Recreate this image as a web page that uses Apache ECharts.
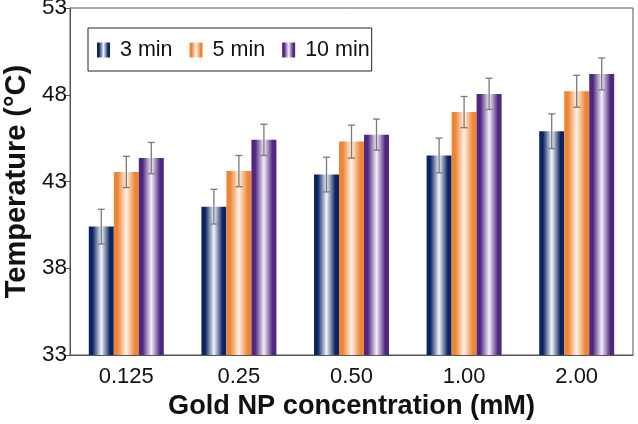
<!DOCTYPE html>
<html><head><meta charset="utf-8">
<script src="https://cdn.jsdelivr.net/npm/echarts@6/dist/echarts.min.js"></script>
<style>html,body{margin:0;padding:0;background:#fff}#c{width:638px;height:424px}</style>
</head><body><div id="c"></div>
<script>
var categories = ['0.125', '0.25', '0.50', '1.00', '2.00'];
var seriesNames = ['3 min', '5 min', '10 min'];
var vals3 = [40.4, 41.55, 43.4, 44.5, 45.9];
var vals5 = [43.55, 43.6, 45.3, 47.0, 48.2];
var vals10 = [44.35, 45.4, 45.7, 48.05, 49.2];
var err3 = [1.0, 1.0, 1.0, 1.0, 1.0];
var err5 = [0.9, 0.9, 0.95, 0.9, 0.92];
var err10 = [0.9, 0.9, 0.9, 0.9, 0.92];
var yTicks = [33, 38, 43, 48, 53];

var chart = echarts.init(document.getElementById('c'));
function grad(edge, mid) {
  return new echarts.graphic.LinearGradient(0, 0, 1, 0, [
    {offset: 0, color: edge}, {offset: 0.15, color: edge},
    {offset: 0.5, color: mid},
    {offset: 0.85, color: edge}, {offset: 1, color: edge}
  ]);
}
var cols = [grad('#0b2463', '#f2f4fa'), grad('#ee8534', '#fdf1e6'), grad('#50267f', '#f3eef8')];
var valsAll = [vals3, vals5, vals10];
var errAll = [err3, err5, err10];
var barW = 25;
var series = [];
seriesNames.forEach(function (n, i) {
  series.push({
    name: n, type: 'bar', data: valsAll[i], barWidth: barW, barGap: '0%',
    itemStyle: {color: cols[i]}, z: 2
  });
});
seriesNames.forEach(function (n, i) {
  var d = valsAll[i].map(function (v, k) { return [k, v - errAll[i][k], v + errAll[i][k]]; });
  series.push({
    type: 'custom', z: 5, silent: true,
    renderItem: function (params, api) {
      var lo = api.coord([api.value(0), api.value(1)]);
      var hi = api.coord([api.value(0), api.value(2)]);
      var x = lo[0] + (i - 1) * barW;
      var cw = 3.5;
      var st = {stroke: '#7a7a7a', lineWidth: 1.3};
      return {type: 'group', children: [
        {type: 'line', shape: {x1: x, y1: lo[1], x2: x, y2: hi[1]}, style: st},
        {type: 'line', shape: {x1: x - cw, y1: lo[1], x2: x + cw, y2: lo[1]}, style: st},
        {type: 'line', shape: {x1: x - cw, y1: hi[1], x2: x + cw, y2: hi[1]}, style: st}
      ]};
    },
    data: d
  });
});
chart.setOption({
  animation: false,
  textStyle: {fontFamily: 'Liberation Sans, Arial, sans-serif'},
  grid: {left: 70, right: 5, top: 8, bottom: 69, show: true, borderColor: '#555', borderWidth: 1,
         containLabel: false, outerBoundsMode: 'none'},
  legend: {
    data: seriesNames, left: 88, top: 28, width: 284, height: 38,
    padding: [11, 2, 10, 9], borderColor: '#222', borderWidth: 1, itemGap: 17,
    itemWidth: 13, itemHeight: 15, icon: 'rect',
    textStyle: {fontSize: 21.5, color: '#111', fontFamily: 'Liberation Sans, Arial, sans-serif', padding: [0, 0, 0, 5]}
  },
  xAxis: {
    type: 'category', data: categories,
    axisLine: {lineStyle: {color: '#555'}}, axisTick: {show: false},
    axisLabel: {fontSize: 22, color: '#111', margin: 11},
    name: 'Gold NP concentration (mM)', nameLocation: 'middle', nameGap: 36,
    nameTextStyle: {fontSize: 27.2, fontWeight: 'bold', color: '#111'}
  },
  yAxis: {
    type: 'value', min: 33, max: 53, interval: 5,
    splitLine: {show: false},
    axisLine: {show: true, lineStyle: {color: '#555'}},
    axisTick: {show: true, length: 5, lineStyle: {color: '#555'}},
    axisLabel: {fontSize: 22.5, color: '#111', margin: 3},
    name: 'Temperature (°C)', nameLocation: 'middle', nameGap: 36,
    nameTextStyle: {fontSize: 29, fontWeight: 'bold', color: '#111'}
  },
  series: series
});
</script></body></html>
